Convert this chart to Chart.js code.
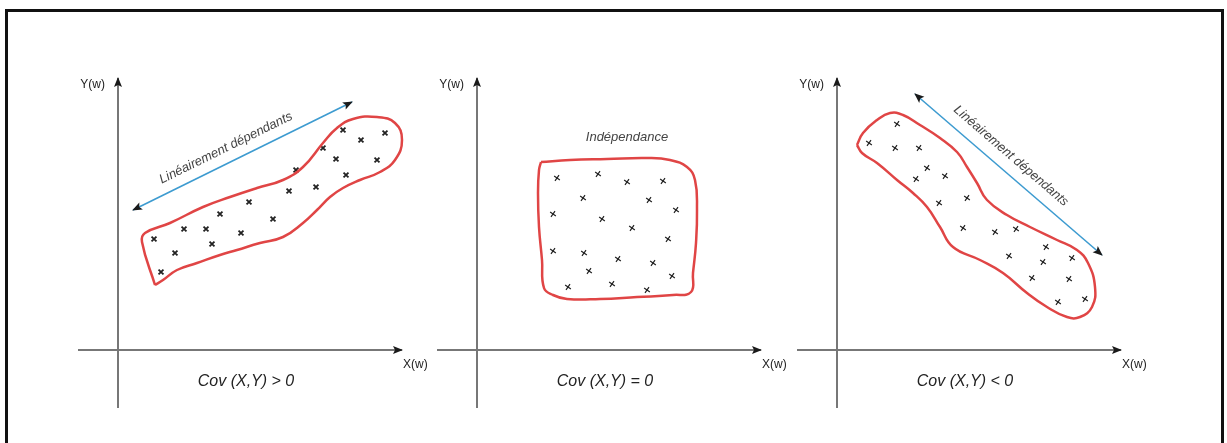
<!DOCTYPE html>
<html lang="fr">
<head>
<meta charset="utf-8">
<title>Covariance</title>
<script src="https://cdn.jsdelivr.net/npm/chart.js@4.4.1/dist/chart.umd.min.js"></script>
<style>
  html, body { margin: 0; padding: 0; background: #fff; }
  body { width: 1227px; height: 443px; position: relative; overflow: hidden; }
  #frame { position: absolute; left: 5px; top: 9px; width: 1213px; height: 470px; border: 3px solid #111; }
  canvas { position: absolute; top: 50px; }
</style>
</head>
<body>
<div id="frame"></div>
<canvas id="cov-pos" width="380" height="380" style="left:58px"></canvas>
<canvas id="cov-zero" width="380" height="380" style="left:417px"></canvas>
<canvas id="cov-neg" width="380" height="380" style="left:777px"></canvas>
<script>
// Axis extents, shared by the three panels
const axisX = [-4.0, 28.4];
const axisY = [-5.8, 27.2];

// Cov > 0 : points, outline and direction arrow
const posPoints = [
  [22.5, 22.0], [24.3, 21.0], [26.7, 21.7], [20.5, 20.2], [21.8, 19.1],
  [25.9, 19.0], [22.8, 17.5], [17.8, 18.0], [17.1, 15.9], [19.8, 16.3],
  [13.1, 14.8], [15.5, 13.1], [10.2, 13.6], [12.3, 11.7], [6.6, 12.1],
  [8.8, 12.1], [9.4, 10.6], [3.6, 11.1], [5.7, 9.7], [4.3, 7.8]
];
const posOutline = [
  [3.7, 6.5], [2.4, 10.8], [2.7, 11.7], [5.2, 12.7], [8.5, 14.3], [11.2, 15.3],
  [13.9, 16.2], [16.5, 17.0], [18.5, 18.3], [20.5, 20.7], [21.9, 22.2], [23.5, 23.1],
  [25.9, 23.3], [27.7, 22.7], [28.4, 21.0], [27.7, 19.0], [26.2, 17.8], [24.2, 17.0],
  [22.5, 16.2], [21.2, 15.3], [19.9, 14.0], [18.5, 12.7], [16.5, 11.3], [14.2, 10.7],
  [11.9, 10.0], [10.2, 9.5], [7.9, 8.7], [5.9, 8.0], [4.5, 7.0]
];
const posArrow = [[1.5, 14.0], [23.4, 24.8]];

// Cov = 0
const zeroPoints = [
  [8.0, 17.2], [12.1, 17.6], [15.0, 16.8], [18.6, 16.9], [10.6, 15.2],
  [17.2, 15.0], [7.6, 13.6], [19.9, 14.0], [12.5, 13.1], [15.5, 12.2],
  [19.1, 11.1], [7.6, 9.9], [10.7, 9.7], [14.1, 9.1], [17.6, 8.7],
  [11.2, 7.9], [19.5, 7.4], [9.1, 6.3], [13.5, 6.6], [17.0, 6.0]
];
const zeroOutline = [
  [6.4, 18.8], [9.3, 19.0], [13.0, 19.1], [17.0, 19.2], [19.3, 19.0], [21.0, 18.3],
  [21.8, 17.0], [22.0, 14.0], [21.9, 10.7], [21.6, 7.7], [21.4, 5.8], [19.6, 5.5],
  [16.0, 5.3], [12.3, 5.1], [9.0, 5.1], [7.6, 5.5], [6.7, 6.2], [6.5, 9.0],
  [6.2, 12.3], [6.1, 15.7], [6.2, 18.0]
];

// Cov < 0
const negPoints = [
  [6.0, 22.6], [3.2, 20.7], [5.8, 20.2], [8.2, 20.2], [9.0, 18.2],
  [7.9, 17.1], [10.8, 17.4], [10.2, 14.7], [13.0, 15.2], [12.6, 12.2],
  [15.8, 11.8], [17.9, 12.1], [20.9, 10.3], [17.2, 9.4], [20.6, 8.8],
  [23.5, 9.2], [19.5, 7.2], [23.2, 7.1], [22.1, 4.8], [24.8, 5.1]
];
const negOutline = [
  [2.0, 20.5], [2.6, 21.7], [4.0, 23.0], [5.3, 23.7], [6.6, 23.5], [8.3, 22.5],
  [10.3, 21.2], [12.0, 19.8], [13.0, 18.3], [14.0, 16.7], [15.0, 15.0], [17.0, 13.5],
  [19.3, 12.3], [22.0, 11.0], [24.0, 10.0], [25.1, 8.7], [25.8, 6.3], [25.5, 4.3],
  [24.3, 3.3], [23.0, 3.3], [21.0, 4.3], [19.0, 5.7], [16.6, 7.7], [14.3, 9.0],
  [11.6, 10.3], [10.3, 12.3], [9.0, 14.3], [7.6, 15.7], [6.0, 17.0], [4.0, 18.7],
  [2.5, 19.7]
];
const negArrow = [[7.8, 25.6], [26.5, 9.5]];

const covLabels = ['Cov (X,Y) > 0', 'Cov (X,Y) = 0', 'Cov (X,Y) < 0'];
const trendLabel = 'Linéairement dépendants';
const flatLabel = 'Indépendance';

const narrowFont = '12px "Liberation Sans Narrow", "Liberation Sans", Arial, sans-serif';
const italicFont = 'italic 16px "Liberation Sans", Arial, sans-serif';
const noteFont = 'italic 13px "Liberation Sans", Arial, sans-serif';

const toXY = pts => pts.map(([x, y]) => ({ x, y }));

function drawHead(ctx, from, to, color) {
  const a = Math.atan2(to.y - from.y, to.x - from.x);
  ctx.save();
  ctx.translate(to.x, to.y);
  ctx.rotate(a);
  ctx.beginPath();
  ctx.moveTo(1, 0);
  ctx.lineTo(-9, -4);
  ctx.lineTo(-7, 0);
  ctx.lineTo(-9, 4);
  ctx.closePath();
  ctx.fillStyle = color;
  ctx.fill();
  ctx.restore();
}

// arrow heads on datasets that ask for them
const arrowHeads = {
  id: 'arrowHeads',
  afterDatasetsDraw(chart) {
    const ctx = chart.ctx;
    chart.data.datasets.forEach((ds, i) => {
      if (!ds.arrowEnds) return;
      const pts = chart.getDatasetMeta(i).data;
      const n = pts.length;
      if (ds.arrowEnds.includes('start')) drawHead(ctx, pts[1], pts[0], ds.headColor);
      if (ds.arrowEnds.includes('end')) drawHead(ctx, pts[n - 2], pts[n - 1], ds.headColor);
    });
  }
};

// free text placed in data units, optionally turned along a dataset
const panelText = {
  id: 'panelText',
  afterDatasetsDraw(chart, args, opts) {
    const ctx = chart.ctx;
    const sx = chart.scales.x, sy = chart.scales.y;
    (opts.items || []).forEach(t => {
      ctx.save();
      ctx.translate(sx.getPixelForValue(t.at[0]), sy.getPixelForValue(t.at[1]));
      if (t.along !== undefined) {
        const p = chart.getDatasetMeta(t.along).data;
        ctx.rotate(Math.atan2(p[1].y - p[0].y, p[1].x - p[0].x));
      }
      ctx.font = t.font;
      ctx.fillStyle = t.color;
      ctx.textAlign = t.align || 'center';
      ctx.textBaseline = 'middle';
      ctx.fillText(t.text, 0, 0);
      ctx.restore();
    });
  }
};

function makePanel(id, points, outline, arrow, cov, note, mark) {
  const axisLine = {
    showLine: true, borderColor: '#777', borderWidth: 2, pointRadius: 0,
    arrowEnds: ['end'], headColor: '#1a1a1a', clip: false
  };
  const datasets = [
    Object.assign({ data: toXY([[axisX[0], 0], [axisX[1], 0]]) }, axisLine),
    Object.assign({ data: toXY([[0, axisY[0]], [0, axisY[1]]]) }, axisLine),
    {
      data: toXY(outline.concat([outline[0]])), showLine: true, tension: 0.45,
      borderColor: '#e04545', borderWidth: 2.5, pointRadius: 0, clip: false
    }
  ];
  const items = [
    { text: 'Y(w)', at: [-1.3, 26.5], font: narrowFont, color: '#222', align: 'right' },
    { text: 'X(w)', at: [28.5, -1.5], font: narrowFont, color: '#222', align: 'left' },
    { text: cov, at: [12.8, -3.2], font: italicFont, color: '#222' }
  ];
  if (arrow) {
    datasets.push({
      data: toXY(arrow), showLine: true, borderColor: '#3d9bd0', borderWidth: 1.6,
      pointRadius: 0, arrowEnds: ['start', 'end'], headColor: '#1a1a1a', clip: false
    });
    items.push({ text: note.text, at: note.at, font: noteFont, color: '#444', along: datasets.length - 1 });
  } else if (note) {
    items.push({ text: note.text, at: note.at, font: noteFont, color: '#444' });
  }
  datasets.push({
    data: toXY(points), showLine: false, pointStyle: mark.style, rotation: mark.rotation,
    pointRadius: mark.radius, borderColor: '#222', backgroundColor: '#222',
    borderWidth: mark.width, clip: false
  });

  new Chart(document.getElementById(id), {
    type: 'scatter',
    data: { datasets },
    options: {
      responsive: false,
      animation: false,
      devicePixelRatio: 1,
      events: [],
      layout: { padding: 0, autoPadding: false },
      scales: {
        x: { type: 'linear', min: -6, max: 32, display: false },
        y: { type: 'linear', min: -8, max: 30, display: false }
      },
      plugins: {
        legend: { display: false },
        tooltip: { enabled: false },
        panelText: { items }
      }
    },
    plugins: [arrowHeads, panelText]
  });
}

makePanel('cov-pos', posPoints, posOutline, posArrow, covLabels[0],
  { text: trendLabel, at: [10.8, 20.2] },
  { style: 'crossRot', rotation: 0, radius: 3.5, width: 1.8 });
makePanel('cov-zero', zeroPoints, zeroOutline, null, covLabels[1],
  { text: flatLabel, at: [15.0, 21.3] },
  { style: 'cross', rotation: 35, radius: 3.5, width: 1.2 });
makePanel('cov-neg', negPoints, negOutline, negArrow, covLabels[2],
  { text: trendLabel, at: [17.4, 19.4] },
  { style: 'cross', rotation: 35, radius: 3.5, width: 1.2 });
</script>
</body>
</html>
